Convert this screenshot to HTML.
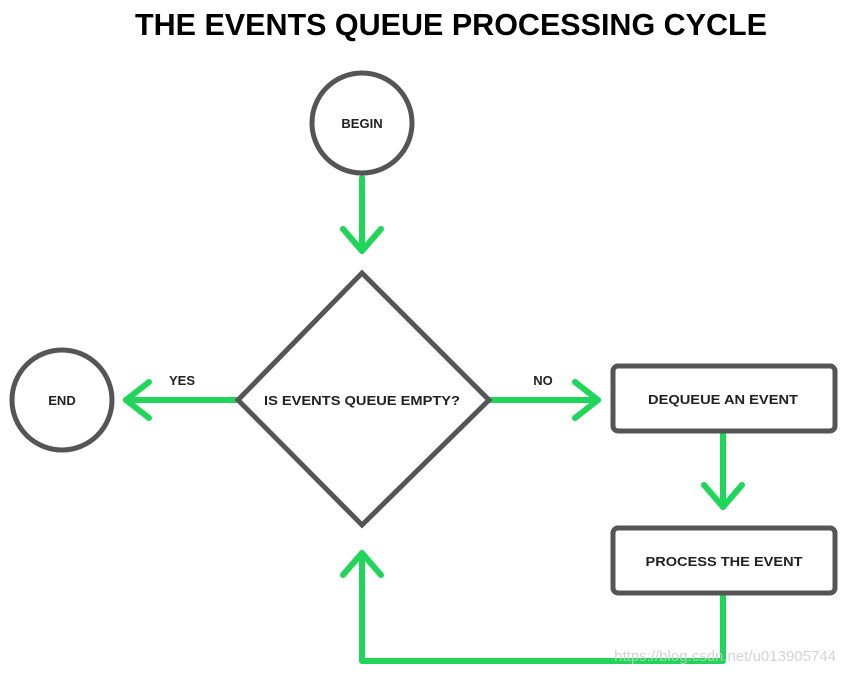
<!DOCTYPE html>
<html><head><meta charset="utf-8"><style>
html,body{margin:0;padding:0;background:#fff;}
svg{display:block;}
text{font-family:"Liberation Sans",sans-serif;font-weight:bold;fill:#222;}
</style></head><body>
<svg width="846" height="674" viewBox="0 0 846 674" xmlns="http://www.w3.org/2000/svg">
<text x="451" y="35" text-anchor="middle" font-size="31" textLength="632" lengthAdjust="spacingAndGlyphs" style="fill:#000">THE EVENTS QUEUE PROCESSING CYCLE</text>
<g fill="none" stroke="#20d65a" stroke-width="6" stroke-linecap="round" stroke-linejoin="round">
<path d="M362 178 V251"/><path d="M343 229 L362 251 L381 229"/>
<path d="M237 400 H126"/><path d="M149 382 L126 400 L149 418"/>
<path d="M490 400 H598"/><path d="M575 382 L598 400 L575 418"/>
<path d="M723 433 V507"/><path d="M704 485 L723 507 L742 485"/>
<path d="M723 595 V661 H362 V553"/><path d="M343 575 L362 553 L381 575"/>
</g>
<g fill="#fff" stroke="#555" stroke-width="5">
<circle cx="362" cy="123" r="50"/>
<circle cx="62" cy="400" r="50"/>
<polygon points="362,273 489,400 362,525 238,400" stroke-linejoin="miter"/>
<rect x="613" y="366" width="222" height="65" rx="5"/>
<rect x="613" y="528" width="222" height="65" rx="5"/>
</g>
<g font-size="13" text-anchor="middle">
<text x="362" y="128">BEGIN</text>
<text x="62" y="405">END</text>
<text x="362" y="405" textLength="196" lengthAdjust="spacingAndGlyphs">IS EVENTS QUEUE EMPTY?</text>
<text x="182" y="385">YES</text>
<text x="543" y="385">NO</text>
<text x="723" y="404" textLength="150" lengthAdjust="spacingAndGlyphs">DEQUEUE AN EVENT</text>
<text x="724" y="566" textLength="157" lengthAdjust="spacingAndGlyphs">PROCESS THE EVENT</text>
</g>
<text x="836" y="661" text-anchor="end" font-size="15" style="font-weight:normal;fill:#ccc;opacity:0.85">https://blog.csdn.net/u013905744</text>
</svg>
</body></html>
